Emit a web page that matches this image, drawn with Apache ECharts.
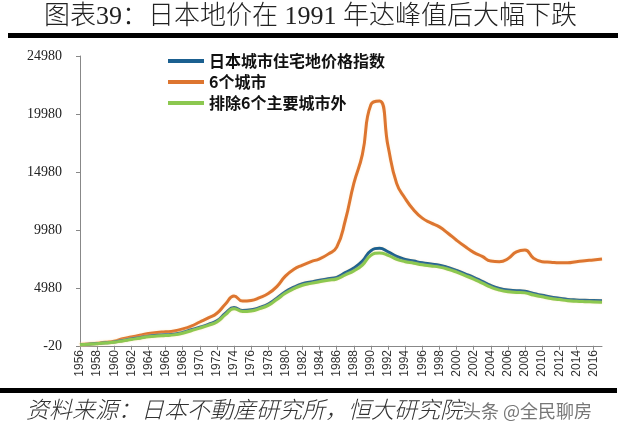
<!DOCTYPE html>
<html><head><meta charset="utf-8">
<script src="https://cdn.jsdelivr.net/npm/echarts@6/dist/echarts.min.js"></script>
<style>html,body{margin:0;padding:0;background:#fff}#c{width:625px;height:429px}</style>
</head><body><div id="c"></div>
<script>
const years = [];
for (let y = 1956; y <= 2017; y++) years.push(String(y));
const yTicks = [-20, 4980, 9980, 14980, 19980, 24980];
const seriesNames = ['日本城市住宅地价格指数', '6个城市', '排除6个主要城市外'];
const nationalIdx = [100,140,190,250,330,450,580,700,830,900,940,1000,1150,1380,1600,1850,2150,2800,3300,3050,3100,3300,3600,4100,4650,5050,5350,5500,5650,5780,5900,6300,6700,7300,8200,8400,8100,7700,7450,7300,7150,7050,6950,6750,6500,6200,5900,5550,5200,4950,4800,4750,4700,4500,4350,4200,4100,4000,3950,3920,3900,3880];
const sixCities = [100,150,220,300,400,600,750,900,1050,1150,1200,1280,1450,1700,2050,2400,2800,3600,4300,3850,3900,4150,4500,5100,6000,6600,6950,7250,7500,7900,8500,10800,14000,16500,20800,21100,17200,14000,12700,11700,11000,10600,10250,9700,9100,8550,8050,7700,7300,7250,7500,8100,8250,7550,7250,7200,7150,7150,7250,7330,7400,7480];
const excludingSix = [90,130,175,235,310,420,540,650,770,840,880,940,1080,1300,1520,1760,2050,2680,3200,2950,3000,3200,3480,3980,4520,4920,5220,5380,5520,5650,5760,6100,6450,6950,7800,8000,7800,7450,7250,7120,6980,6880,6780,6600,6350,6050,5750,5400,5050,4800,4650,4600,4560,4370,4220,4080,3980,3880,3830,3800,3780,3760];
const colors = ['#1B6090', '#DD7530', '#8CC850'];

const chart = echarts.init(document.getElementById('c'), null, {renderer: 'canvas'});
function mk(name, data, color, z) {
  return {
    name, type: 'line', data, smooth: 0.5, showSymbol: false, symbol: 'none', z,
    lineStyle: {width: 3, color, shadowColor: 'rgba(255,220,150,0.5)', shadowBlur: 2},
    itemStyle: {color}
  };
}
chart.setOption({
  animation: false,
  backgroundColor: '#fff',
  grid: {left: 80, right: 23, top: 56, bottom: 83},
  legend: {
    orient: 'vertical', left: 163, top: 48, itemWidth: 36, itemHeight: 4, itemGap: 5,
    icon: 'rect',
    data: seriesNames,
    textStyle: {fontFamily: 'Noto Sans CJK SC', fontWeight: 'bold', fontSize: 16, color: '#111', lineHeight: 16}
  },
  xAxis: {
    type: 'category', data: years, boundaryGap: false,
    axisLine: {lineStyle: {color: '#888', width: 1}},
    axisTick: {interval: 1, length: 4, lineStyle: {color: '#888'}},
    axisLabel: {interval: 1, rotate: 90, fontFamily: 'Liberation Sans', fontSize: 12, color: '#333', margin: 4}
  },
  yAxis: {
    type: 'value', min: -20, max: 24980,
    splitLine: {show: false},
    axisLine: {show: true, lineStyle: {color: '#888'}},
    axisTick: {show: true, length: 4, customValues: yTicks, lineStyle: {color: '#888'}},
    axisLabel: {customValues: yTicks, formatter: v => String(v), fontFamily: 'Liberation Serif', fontSize: 14, color: '#222', margin: 18}
  },
  series: [
    mk(seriesNames[1], sixCities, colors[1], 2),
    mk(seriesNames[0], nationalIdx, colors[0], 3),
    mk(seriesNames[2], excludingSix, colors[2], 4)
  ],
  graphic: [
    {type: 'text', left: 44, top: 4, style: {text: '图表39：日本地价在 1991 年达峰值后大幅下跌', font: '300 26px "Liberation Serif", "Noto Sans CJK SC"', fill: '#222'}},
    {type: 'rect', shape: {x: 8, y: 33, width: 610, height: 5}, style: {fill: '#000'}},
    {type: 'rect', shape: {x: 0, y: 388, width: 617, height: 5}, style: {fill: '#000'}},
    {type: 'text', left: 26, top: 398, style: {text: '资料来源：日本不動産研究所，恒大研究院', font: 'italic 300 23px "Noto Sans CJK SC"', fill: '#333'}},
    {type: 'text', left: 462, top: 401, z: 10, style: {text: '头条 @全民聊房', font: '18px "Noto Sans CJK SC"', fill: '#777', stroke: '#fff', lineWidth: 2}}
  ]
});
</script></body></html>
